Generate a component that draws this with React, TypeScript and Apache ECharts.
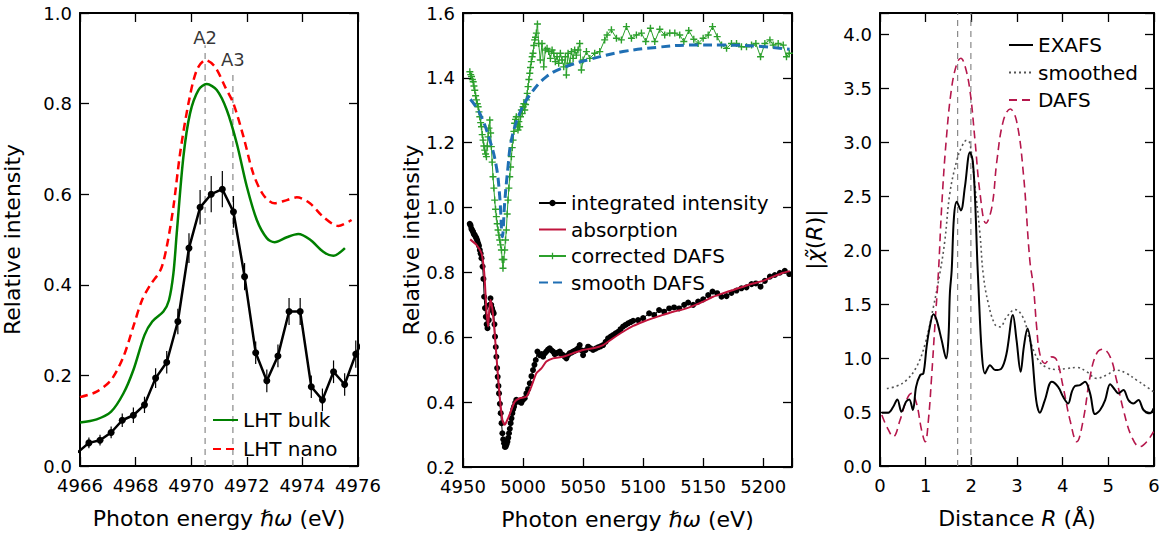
import React, { useEffect, useRef } from "react";
import * as echarts from "echarts";

const FONT = "DejaVu Sans";

// ---------- Panel 1: XANES pre-edge ----------
const p1Measured: number[][] = [
  [4965.92, 0.030], [4966.32, 0.051], [4966.72, 0.057], [4967.12, 0.074], [4967.52, 0.101],
  [4967.92, 0.112], [4968.32, 0.135], [4968.72, 0.194], [4969.12, 0.229], [4969.52, 0.319],
  [4969.92, 0.481], [4970.32, 0.571], [4970.72, 0.600], [4971.12, 0.611], [4971.52, 0.561],
  [4971.92, 0.418], [4972.32, 0.250], [4972.72, 0.188], [4973.12, 0.243], [4973.52, 0.341],
  [4973.92, 0.341], [4974.32, 0.175], [4974.72, 0.146], [4975.12, 0.208], [4975.52, 0.180],
  [4975.92, 0.247], [4976.32, 0.295],
];
const p1Errors: number[] = [
  0.010, 0.012, 0.012, 0.013, 0.015, 0.017, 0.018, 0.022, 0.025, 0.028,
  0.033, 0.038, 0.040, 0.040, 0.035, 0.030, 0.025, 0.025, 0.025, 0.030,
  0.030, 0.025, 0.025, 0.025, 0.025, 0.030, 0.030,
];
const p1Bulk: number[][] = [
  [4966.0, 0.096], [4966.6, 0.103], [4967.12, 0.120], [4967.56, 0.160], [4967.92, 0.212],
  [4968.32, 0.289], [4968.6, 0.319], [4969.0, 0.341], [4969.2, 0.366], [4969.36, 0.425],
  [4969.48, 0.514], [4969.72, 0.683], [4969.96, 0.779], [4970.26, 0.830], [4970.56, 0.843],
  [4970.92, 0.830], [4971.28, 0.786], [4971.64, 0.712], [4972.0, 0.617], [4972.36, 0.543],
  [4972.72, 0.503], [4973.0, 0.494], [4973.44, 0.505], [4973.85, 0.512], [4974.27, 0.500],
  [4974.75, 0.473], [4975.11, 0.464], [4975.53, 0.481],
];
const p1Nano: number[][] = [
  [4966.0, 0.152], [4966.6, 0.164], [4967.12, 0.190], [4967.56, 0.241], [4967.92, 0.308],
  [4968.23, 0.366], [4968.53, 0.400], [4968.9, 0.433], [4969.12, 0.484], [4969.36, 0.572],
  [4969.6, 0.690], [4969.9, 0.800], [4970.2, 0.874], [4970.52, 0.896], [4970.86, 0.881],
  [4971.22, 0.837], [4971.52, 0.800], [4971.88, 0.727], [4972.23, 0.646], [4972.6, 0.598],
  [4973.0, 0.580], [4973.44, 0.587], [4973.8, 0.593], [4974.27, 0.580], [4974.75, 0.550],
  [4975.29, 0.530], [4975.77, 0.543],
];
const p1Markers = [
  { label: "A2", x: 4970.5, top: 0.929, labelY: 0.925 },
  { label: "A3", x: 4971.5, top: 0.874, labelY: 0.876 },
];

// ---------- Panel 2: DAFS ----------
const p2Integrated: number[][] = [
  [4955.6, 0.950], [4956.3, 0.945], [4957.0, 0.935], [4957.7, 0.930], [4958.4, 0.925],
  [4959.1, 0.918], [4959.8, 0.915], [4960.5, 0.910], [4961.2, 0.905], [4961.9, 0.898],
  [4962.6, 0.890], [4963.3, 0.882], [4964.0, 0.869], [4964.7, 0.858], [4965.4, 0.844],
  [4966.3, 0.818], [4967.0, 0.780], [4967.6, 0.725], [4968.3, 0.690], [4969.0, 0.663],
  [4969.7, 0.640], [4970.4, 0.628], [4971.5, 0.653], [4972.2, 0.700], [4972.9, 0.720],
  [4973.5, 0.700], [4974.2, 0.689], [4974.9, 0.680], [4975.6, 0.674], [4976.2, 0.640],
  [4976.7, 0.602], [4977.3, 0.570], [4977.8, 0.540], [4978.4, 0.505], [4978.9, 0.478],
  [4979.5, 0.450], [4980.0, 0.427], [4980.7, 0.395], [4981.4, 0.366], [4982.1, 0.335],
  [4982.8, 0.304], [4983.5, 0.285], [4984.2, 0.273], [4984.9, 0.262], [4985.6, 0.263],
  [4986.3, 0.270], [4987.0, 0.278], [4987.7, 0.290], [4988.3, 0.304], [4989.0, 0.318],
  [4989.7, 0.335], [4990.4, 0.350], [4991.1, 0.366], [4991.8, 0.378], [4992.5, 0.386],
  [4993.5, 0.398], [4994.4, 0.407], [4995.8, 0.404], [4997.2, 0.401], [4998.6, 0.398],
  [5000.0, 0.407], [5001.4, 0.412], [5002.8, 0.427], [5004.2, 0.440], [5005.6, 0.458],
  [5007.0, 0.480], [5008.3, 0.499], [5009.5, 0.515], [5010.6, 0.530], [5012.0, 0.556],
  [5013.9, 0.545], [5015.3, 0.548], [5016.7, 0.540], [5018.0, 0.550], [5019.4, 0.556],
  [5020.8, 0.562], [5022.2, 0.566], [5023.6, 0.560], [5025.0, 0.556], [5026.4, 0.548],
  [5027.8, 0.551], [5029.2, 0.553], [5030.6, 0.556], [5032.0, 0.548], [5033.3, 0.545],
  [5034.7, 0.540], [5036.1, 0.535], [5037.5, 0.545], [5038.9, 0.551], [5040.3, 0.553],
  [5041.7, 0.556], [5043.0, 0.558], [5044.4, 0.561], [5045.8, 0.566], [5047.2, 0.576],
  [5048.6, 0.560], [5050.0, 0.545], [5052.0, 0.560], [5054.2, 0.571], [5056.2, 0.566],
  [5058.3, 0.561], [5060.4, 0.565], [5062.5, 0.569], [5064.6, 0.572], [5066.7, 0.576],
  [5068.8, 0.586], [5070.8, 0.597], [5073.0, 0.602], [5075.0, 0.607], [5077.1, 0.612],
  [5079.2, 0.617], [5081.2, 0.625], [5083.3, 0.633], [5085.4, 0.638], [5087.5, 0.643],
  [5089.6, 0.647], [5091.7, 0.651], [5095.8, 0.653], [5100.0, 0.659], [5105.0, 0.674],
  [5109.2, 0.669], [5113.3, 0.684], [5117.5, 0.679], [5121.7, 0.689], [5125.8, 0.692],
  [5130.0, 0.689], [5134.2, 0.700], [5137.5, 0.707], [5141.7, 0.700], [5145.8, 0.710],
  [5150.0, 0.717], [5154.2, 0.730], [5157.8, 0.741], [5161.7, 0.736], [5165.3, 0.725],
  [5169.5, 0.727], [5173.6, 0.737], [5177.8, 0.744], [5181.9, 0.751], [5186.1, 0.754],
  [5190.3, 0.764], [5193.9, 0.766], [5197.8, 0.756], [5201.4, 0.774], [5205.6, 0.787],
  [5209.7, 0.792], [5213.9, 0.799], [5218.0, 0.805], [5221.7, 0.795],
];
const p2Absorption: number[][] = [
  [4956.0, 0.902], [4961.2, 0.885], [4965.4, 0.859], [4967.2, 0.818], [4968.1, 0.777],
  [4969.5, 0.684], [4970.9, 0.633], [4971.7, 0.674], [4972.8, 0.715], [4974.4, 0.689],
  [4976.4, 0.612], [4978.3, 0.520], [4980.6, 0.417], [4982.8, 0.345], [4984.7, 0.330],
  [4987.5, 0.350], [4990.3, 0.376], [4993.0, 0.401], [4997.2, 0.412], [5002.8, 0.417],
  [5006.9, 0.448], [5011.1, 0.489], [5015.3, 0.504], [5019.4, 0.525], [5025.0, 0.535],
  [5033.3, 0.540], [5041.7, 0.551], [5050.0, 0.561], [5058.3, 0.566], [5066.7, 0.576],
  [5075.0, 0.597], [5083.3, 0.617], [5091.7, 0.635], [5100.0, 0.648], [5108.3, 0.659],
  [5116.7, 0.669], [5125.0, 0.679], [5133.3, 0.686], [5141.7, 0.697], [5150.0, 0.710],
  [5158.3, 0.725], [5166.7, 0.736], [5175.0, 0.746], [5183.3, 0.756], [5191.7, 0.766],
  [5200.0, 0.774], [5208.3, 0.787], [5216.7, 0.799], [5222.2, 0.804],
];
const p2Corrected: number[][] = [
  [4955.7, 1.419], [4956.4, 1.410], [4957.1, 1.404], [4957.8, 1.395], [4958.5, 1.388],
  [4959.1, 1.375], [4959.8, 1.362], [4960.5, 1.345], [4961.2, 1.332], [4961.9, 1.320],
  [4962.6, 1.311], [4963.3, 1.295], [4964.0, 1.280], [4964.7, 1.262], [4965.4, 1.249],
  [4966.0, 1.225], [4966.7, 1.208], [4967.4, 1.190], [4968.1, 1.177], [4968.8, 1.165],
  [4969.5, 1.157], [4970.2, 1.190], [4970.9, 1.218], [4971.6, 1.245], [4972.3, 1.270],
  [4973.0, 1.230], [4973.6, 1.188], [4974.3, 1.140], [4975.0, 1.095], [4975.7, 1.060],
  [4976.4, 1.023], [4977.1, 0.995], [4977.8, 0.972], [4978.5, 0.950], [4979.2, 0.931],
  [4979.9, 0.915], [4980.6, 0.900], [4981.3, 0.885], [4982.0, 0.869], [4982.7, 0.840],
  [4983.3, 0.813], [4984.0, 0.840], [4984.7, 0.869], [4985.4, 0.900], [4986.1, 0.931],
  [4986.8, 0.980], [4987.5, 1.023], [4988.2, 1.060], [4988.9, 1.095], [4989.6, 1.125],
  [4990.3, 1.157], [4991.0, 1.185], [4991.7, 1.208], [4992.4, 1.235], [4993.0, 1.260],
  [4993.7, 1.272], [4994.4, 1.280], [4995.1, 1.255], [4995.8, 1.239], [4996.5, 1.265],
  [4997.2, 1.249], [4997.9, 1.280], [4998.6, 1.301], [4999.3, 1.290], [5000.0, 1.311],
  [5000.7, 1.320], [5001.4, 1.301], [5002.1, 1.318], [5002.8, 1.332], [5003.5, 1.352],
  [5004.2, 1.373], [5004.9, 1.395], [5005.6, 1.414], [5006.2, 1.432], [5006.9, 1.450],
  [5007.6, 1.465], [5008.3, 1.476], [5009.0, 1.500], [5009.7, 1.517], [5010.4, 1.525],
  [5011.1, 1.538], [5012.0, 1.566], [5013.0, 1.506], [5014.4, 1.455], [5015.8, 1.506],
  [5017.2, 1.434], [5018.6, 1.486], [5020.0, 1.491], [5021.4, 1.481], [5022.8, 1.460],
  [5024.2, 1.486], [5025.6, 1.476], [5026.9, 1.450], [5028.3, 1.465], [5029.7, 1.445],
  [5031.1, 1.476], [5032.5, 1.455], [5033.9, 1.434], [5035.3, 1.465], [5036.1, 1.409],
  [5037.5, 1.476], [5038.9, 1.445], [5040.3, 1.481], [5041.7, 1.460], [5043.0, 1.486],
  [5044.4, 1.470], [5045.8, 1.486], [5047.2, 1.506], [5048.6, 1.424], [5050.0, 1.455],
  [5052.8, 1.481], [5055.6, 1.460], [5059.7, 1.476], [5063.9, 1.481], [5068.0, 1.517],
  [5070.0, 1.532], [5073.6, 1.548], [5077.8, 1.522], [5081.9, 1.517], [5086.1, 1.558],
  [5090.3, 1.522], [5094.4, 1.532], [5098.6, 1.538], [5102.2, 1.512], [5106.1, 1.553],
  [5109.7, 1.512], [5113.9, 1.550], [5118.0, 1.532], [5122.2, 1.538], [5126.4, 1.538],
  [5130.5, 1.532], [5133.9, 1.512], [5138.0, 1.546], [5142.2, 1.519], [5145.8, 1.506],
  [5150.0, 1.522], [5154.2, 1.532], [5157.8, 1.558], [5161.7, 1.527], [5165.3, 1.501],
  [5169.5, 1.491], [5173.6, 1.506], [5177.8, 1.506], [5181.9, 1.496], [5186.1, 1.496],
  [5190.3, 1.501], [5193.9, 1.506], [5197.8, 1.465], [5201.4, 1.506], [5205.6, 1.517],
  [5208.3, 1.501], [5212.5, 1.506], [5216.7, 1.501], [5219.4, 1.465], [5221.7, 1.476],
];
const p2Smooth: number[][] = [
  [4956.2, 1.334], [4963.9, 1.291], [4972.3, 1.208], [4977.8, 1.126], [4980.6, 1.033],
  [4982.8, 0.910], [4984.7, 1.014], [4987.5, 1.126], [4990.3, 1.208], [4997.2, 1.291],
  [5005.6, 1.347], [5019.5, 1.404], [5036.0, 1.435], [5055.6, 1.457], [5083.3, 1.481],
  [5111.0, 1.494], [5138.9, 1.501], [5166.7, 1.501], [5194.4, 1.498], [5222.0, 1.488],
];

// ---------- Panel 3: Fourier transforms ----------
const p3Exafs: number[][] = [
  [0.04, 0.494], [0.18, 0.494], [0.29, 0.549], [0.38, 0.617], [0.47, 0.503], [0.57, 0.596],
  [0.64, 0.617], [0.72, 0.519], [0.79, 0.734], [0.88, 0.843], [0.95, 0.858], [1.02, 1.105],
  [1.09, 1.290], [1.17, 1.407], [1.24, 1.352], [1.35, 1.167], [1.45, 0.997], [1.50, 1.197],
  [1.53, 1.600], [1.57, 1.815], [1.62, 2.310], [1.68, 2.450], [1.77, 2.370], [1.86, 2.590],
  [1.97, 2.910], [2.03, 2.830], [2.08, 2.490], [2.13, 1.910], [2.15, 1.720], [2.23, 1.040],
  [2.30, 0.858], [2.41, 0.935], [2.52, 0.889], [2.66, 0.904], [2.77, 1.040], [2.91, 1.400],
  [2.99, 1.167], [3.08, 0.873], [3.15, 1.105], [3.23, 1.275], [3.32, 1.074], [3.42, 0.611],
  [3.50, 0.494], [3.61, 0.611], [3.76, 0.781], [3.90, 0.734], [4.01, 0.642], [4.12, 0.580],
  [4.20, 0.688], [4.27, 0.741], [4.38, 0.750], [4.49, 0.781], [4.60, 0.673], [4.71, 0.481],
  [4.82, 0.519], [4.93, 0.611], [5.04, 0.759], [5.15, 0.704], [5.22, 0.673], [5.33, 0.704],
  [5.44, 0.611], [5.55, 0.580], [5.66, 0.611], [5.77, 0.519], [5.91, 0.488], [5.99, 0.534],
];
const p3Smoothed: number[][] = [
  [0.15, 0.719], [0.37, 0.741], [0.58, 0.796], [0.80, 0.919], [0.99, 1.136], [1.17, 1.475],
  [1.31, 1.784], [1.42, 2.090], [1.53, 2.530], [1.68, 2.830], [1.79, 2.960], [1.90, 3.020],
  [1.97, 2.990], [2.08, 2.590], [2.19, 2.150], [2.26, 1.780], [2.37, 1.510], [2.52, 1.310],
  [2.63, 1.290], [2.77, 1.380], [2.96, 1.450], [3.14, 1.370], [3.28, 1.170], [3.47, 0.980],
  [3.65, 0.914], [3.87, 0.895], [4.09, 0.904], [4.31, 0.914], [4.53, 0.873], [4.74, 0.812],
  [4.96, 0.843], [5.18, 0.889], [5.40, 0.858], [5.62, 0.796], [5.84, 0.734], [5.99, 0.688],
];
const p3Dafs: number[][] = [
  [0.04, 0.472], [0.15, 0.364], [0.29, 0.272], [0.44, 0.426], [0.58, 0.611], [0.69, 0.673],
  [0.80, 0.580], [0.91, 0.333], [0.99, 0.225], [1.06, 0.426], [1.13, 0.827], [1.20, 1.290],
  [1.28, 1.800], [1.35, 2.400], [1.45, 3.020], [1.57, 3.510], [1.69, 3.740], [1.77, 3.780],
  [1.86, 3.710], [1.97, 3.480], [2.08, 3.020], [2.19, 2.530], [2.32, 2.250], [2.45, 2.400],
  [2.56, 2.830], [2.70, 3.200], [2.85, 3.310], [2.99, 3.200], [3.14, 2.710], [3.28, 1.910],
  [3.36, 1.660], [3.43, 1.290], [3.50, 1.040], [3.61, 0.951], [3.76, 1.012], [3.87, 0.981],
  [4.01, 0.734], [4.16, 0.426], [4.31, 0.225], [4.45, 0.426], [4.60, 0.827], [4.74, 1.040],
  [4.88, 1.083], [5.04, 1.012], [5.18, 0.796], [5.33, 0.519], [5.51, 0.272], [5.69, 0.179],
  [5.84, 0.225], [5.99, 0.318],
];
const p3Markers: number[] = [1.7, 1.99];

const PLUS = "path://M4,0h2v4h4v2h-4v4h-2v-4h-4v-2h4z";
const CLEAR = "rgba(0,0,0,0)";

function multipleOf(v: number, step: number) {
  return Math.abs(v / step - Math.round(v / step)) < 1e-6;
}

function axesFor(
  grid: number,
  xmin: number, xmax: number, xint: number,
  ymin: number, ymax: number, yint: number,
  xfmt: (v: number) => string, yfmt: (v: number) => string,
  xname: string, yname: string, yGap: number
) {
  const line = { show: true, onZero: false, lineStyle: { color: "#000", width: 2 } };
  const tick = { show: true, inside: true, length: 9, lineStyle: { color: "#000", width: 1.3 } };
  const label = { color: "#000", fontFamily: FONT, fontSize: 18 };
  const rich = { i: { fontStyle: "italic", fontFamily: FONT, fontSize: 22, color: "#000" } };
  const nameStyle = { fontFamily: FONT, fontSize: 22, color: "#000", rich };
  const x = [
    {
      type: "value", gridIndex: grid, min: xmin, max: xmax, interval: xint, position: "bottom",
      axisLine: line, axisTick: tick, splitLine: { show: false },
      axisLabel: { ...label, margin: 10, formatter: xfmt },
      name: xname, nameLocation: "middle", nameGap: 41, nameTextStyle: nameStyle,
    },
    {
      type: "value", gridIndex: grid, min: xmin, max: xmax, interval: xint, position: "top",
      axisLine: line, axisTick: tick, splitLine: { show: false }, axisLabel: { show: false },
    },
  ];
  const y = [
    {
      type: "value", gridIndex: grid, min: ymin, max: ymax, interval: yint, position: "left",
      axisLine: line, axisTick: tick, splitLine: { show: false },
      axisLabel: { ...label, margin: 8, formatter: yfmt },
      name: yname, nameLocation: "middle", nameGap: yGap, nameTextStyle: nameStyle,
    },
    {
      type: "value", gridIndex: grid, min: ymin, max: ymax, interval: yint, position: "right",
      axisLine: line, axisTick: tick, splitLine: { show: false }, axisLabel: { show: false },
    },
  ];
  return { x, y };
}

function buildOption() {
  const a1 = axesFor(
    0, 4966, 4976, 2, 0, 1.0, 0.2,
    (v) => (multipleOf(v, 2) ? String(v) : ""),
    (v) => (multipleOf(v, 0.2) ? v.toFixed(1) : ""),
    "Photon energy {i|ℏω} (eV)", "Relative intensity", 57
  );
  const a2 = axesFor(
    1, 4950, 5224, 50, 0.2, 1.6, 0.2,
    (v) => (multipleOf(v, 50) ? String(v) : ""),
    (v) => (multipleOf(v, 0.2) ? v.toFixed(1) : ""),
    "Photon energy {i|ℏω} (eV)", "Relative intensity", 36
  );
  const a3 = axesFor(
    2, 0, 6, 1, 0, 4.2, 0.5,
    (v) => (multipleOf(v, 1) ? String(v) : ""),
    (v) => (multipleOf(v, 0.5) ? v.toFixed(1) : ""),
    "Distance {i|R} (Å)", "|{i|χ̃}({i|R})|", 55
  );

  const legendText = { fontFamily: FONT, fontSize: 20, color: "#000", lineHeight: 20 };

  const errData = p1Measured.map((p, i) => [p[0], p[1] - p1Errors[i], p[1] + p1Errors[i]]);

  const series: any[] = [
    // panel 1
    ...p1Markers.map((m) => ({
      type: "line", name: "marker " + m.label, xAxisIndex: 0, yAxisIndex: 0,
      data: [[m.x, 0], [m.x, m.top]], symbol: "none", silent: true,
      lineStyle: { color: "#888", width: 1.2, type: [6, 5] }, z: 1,
    })),
    {
      type: "scatter", name: "marker labels", xAxisIndex: 0, yAxisIndex: 0,
      data: p1Markers.map((m) => [m.x, m.labelY, m.label]), symbolSize: 1,
      itemStyle: { color: CLEAR }, silent: true,
      label: {
        show: true, position: "top", distance: 0, formatter: (p: any) => p.data[2],
        fontFamily: FONT, fontSize: 18, color: "#000",
      },
    },
    {
      type: "line", name: "LHT bulk", xAxisIndex: 0, yAxisIndex: 0, data: p1Bulk,
      symbol: "none", smooth: 0.3, lineStyle: { color: "#008000", width: 2.5 },
      itemStyle: { color: CLEAR },
    },
    {
      type: "line", name: "LHT nano", xAxisIndex: 0, yAxisIndex: 0, data: p1Nano,
      symbol: "none", smooth: 0.3, lineStyle: { color: "#ff0000", width: 2.5, type: [8, 5] },
      itemStyle: { color: CLEAR },
    },
    {
      type: "custom", name: "error bars", xAxisIndex: 0, yAxisIndex: 0, data: errData, clip: true,
      renderItem: (_params: any, api: any) => {
        const p1 = api.coord([api.value(0), api.value(1)]);
        const p2 = api.coord([api.value(0), api.value(2)]);
        return {
          type: "line",
          shape: { x1: p1[0], y1: p1[1], x2: p2[0], y2: p2[1] },
          style: { stroke: "#000", lineWidth: 1.2 },
        };
      },
      z: 3,
    },
    {
      type: "line", name: "measured", xAxisIndex: 0, yAxisIndex: 0, data: p1Measured,
      symbol: "circle", symbolSize: 7, lineStyle: { color: "#000", width: 2.5 },
      itemStyle: { color: "#000" }, z: 4,
    },
    // panel 2
    {
      type: "line", name: "integrated intensity", xAxisIndex: 2, yAxisIndex: 2, data: p2Integrated,
      symbol: "circle", symbolSize: 6, lineStyle: { color: "#000", width: 1 },
      itemStyle: { color: "#000" }, z: 2,
    },
    {
      type: "line", name: "absorption", xAxisIndex: 2, yAxisIndex: 2, data: p2Absorption,
      symbol: "none", smooth: 0.2, lineStyle: { color: "#c0143c", width: 2 },
      itemStyle: { color: CLEAR }, z: 3,
    },
    {
      type: "line", name: "corrected DAFS", xAxisIndex: 2, yAxisIndex: 2, data: p2Corrected,
      symbol: PLUS, symbolSize: 7, lineStyle: { color: "#2ca02c", width: 1 },
      itemStyle: { color: "#2ca02c" }, z: 2,
    },
    {
      type: "line", name: "smooth DAFS", xAxisIndex: 2, yAxisIndex: 2, data: p2Smooth,
      symbol: "none", smooth: 0.4, lineStyle: { color: "#1f6fb4", width: 3, type: [9, 5] },
      itemStyle: { color: CLEAR }, z: 3,
    },
    // panel 3
    ...p3Markers.map((r) => ({
      type: "line", name: "marker R " + r, xAxisIndex: 4, yAxisIndex: 4,
      data: [[r, 0], [r, 4.2]], symbol: "none", silent: true,
      lineStyle: { color: "#888", width: 1.2, type: [6, 5] }, z: 1,
    })),
    {
      type: "line", name: "EXAFS", xAxisIndex: 4, yAxisIndex: 4, data: p3Exafs,
      symbol: "none", smooth: 0.35, lineStyle: { color: "#000", width: 2 },
      itemStyle: { color: CLEAR }, z: 3,
    },
    {
      type: "line", name: "smoothed", xAxisIndex: 4, yAxisIndex: 4, data: p3Smoothed,
      symbol: "none", smooth: 0.4, lineStyle: { color: "#555", width: 1.6, type: [2, 3] },
      itemStyle: { color: CLEAR }, z: 2,
    },
    {
      type: "line", name: "DAFS", xAxisIndex: 4, yAxisIndex: 4, data: p3Dafs,
      symbol: "none", smooth: 0.4, lineStyle: { color: "#b5174c", width: 1.6, type: [8, 5] },
      itemStyle: { color: CLEAR }, z: 2,
    },
  ];

  const legendBase = {
    orient: "vertical", itemHeight: 8, textStyle: legendText, selectedMode: false,
  };

  return {
    animation: false,
    backgroundColor: "#fff",
    grid: [
      { left: 80, top: 13, width: 278, height: 453 },
      { left: 463, top: 13, width: 329, height: 454 },
      { left: 880, top: 13, width: 274, height: 453 },
    ],
    xAxis: [...a1.x, ...a2.x, ...a3.x],
    yAxis: [...a1.y, ...a2.y, ...a3.y],
    legend: [
      { ...legendBase, data: ["LHT bulk", "LHT nano"], left: 207, top: 405, itemWidth: 25, itemGap: 9 },
      {
        ...legendBase,
        data: ["integrated intensity", "absorption", "corrected DAFS", "smooth DAFS"],
        left: 533, top: 188, itemWidth: 27, itemGap: 6.5,
      },
      { ...legendBase, data: ["EXAFS", "smoothed", "DAFS"], left: 1003, top: 30, itemWidth: 24, itemGap: 7.5 },
    ],
    series,
  };
}

export default function App() {
  const ref = useRef<HTMLDivElement | null>(null);
  useEffect(() => {
    if (!ref.current) return;
    const chart = echarts.init(ref.current, undefined, { renderer: "svg" });
    chart.setOption(buildOption() as any);
    return () => chart.dispose();
  }, []);
  return (
    <div
      ref={ref}
      style={{ position: "absolute", left: 0, top: 0, width: 1165, height: 541, background: "#fff" }}
    />
  );
}
